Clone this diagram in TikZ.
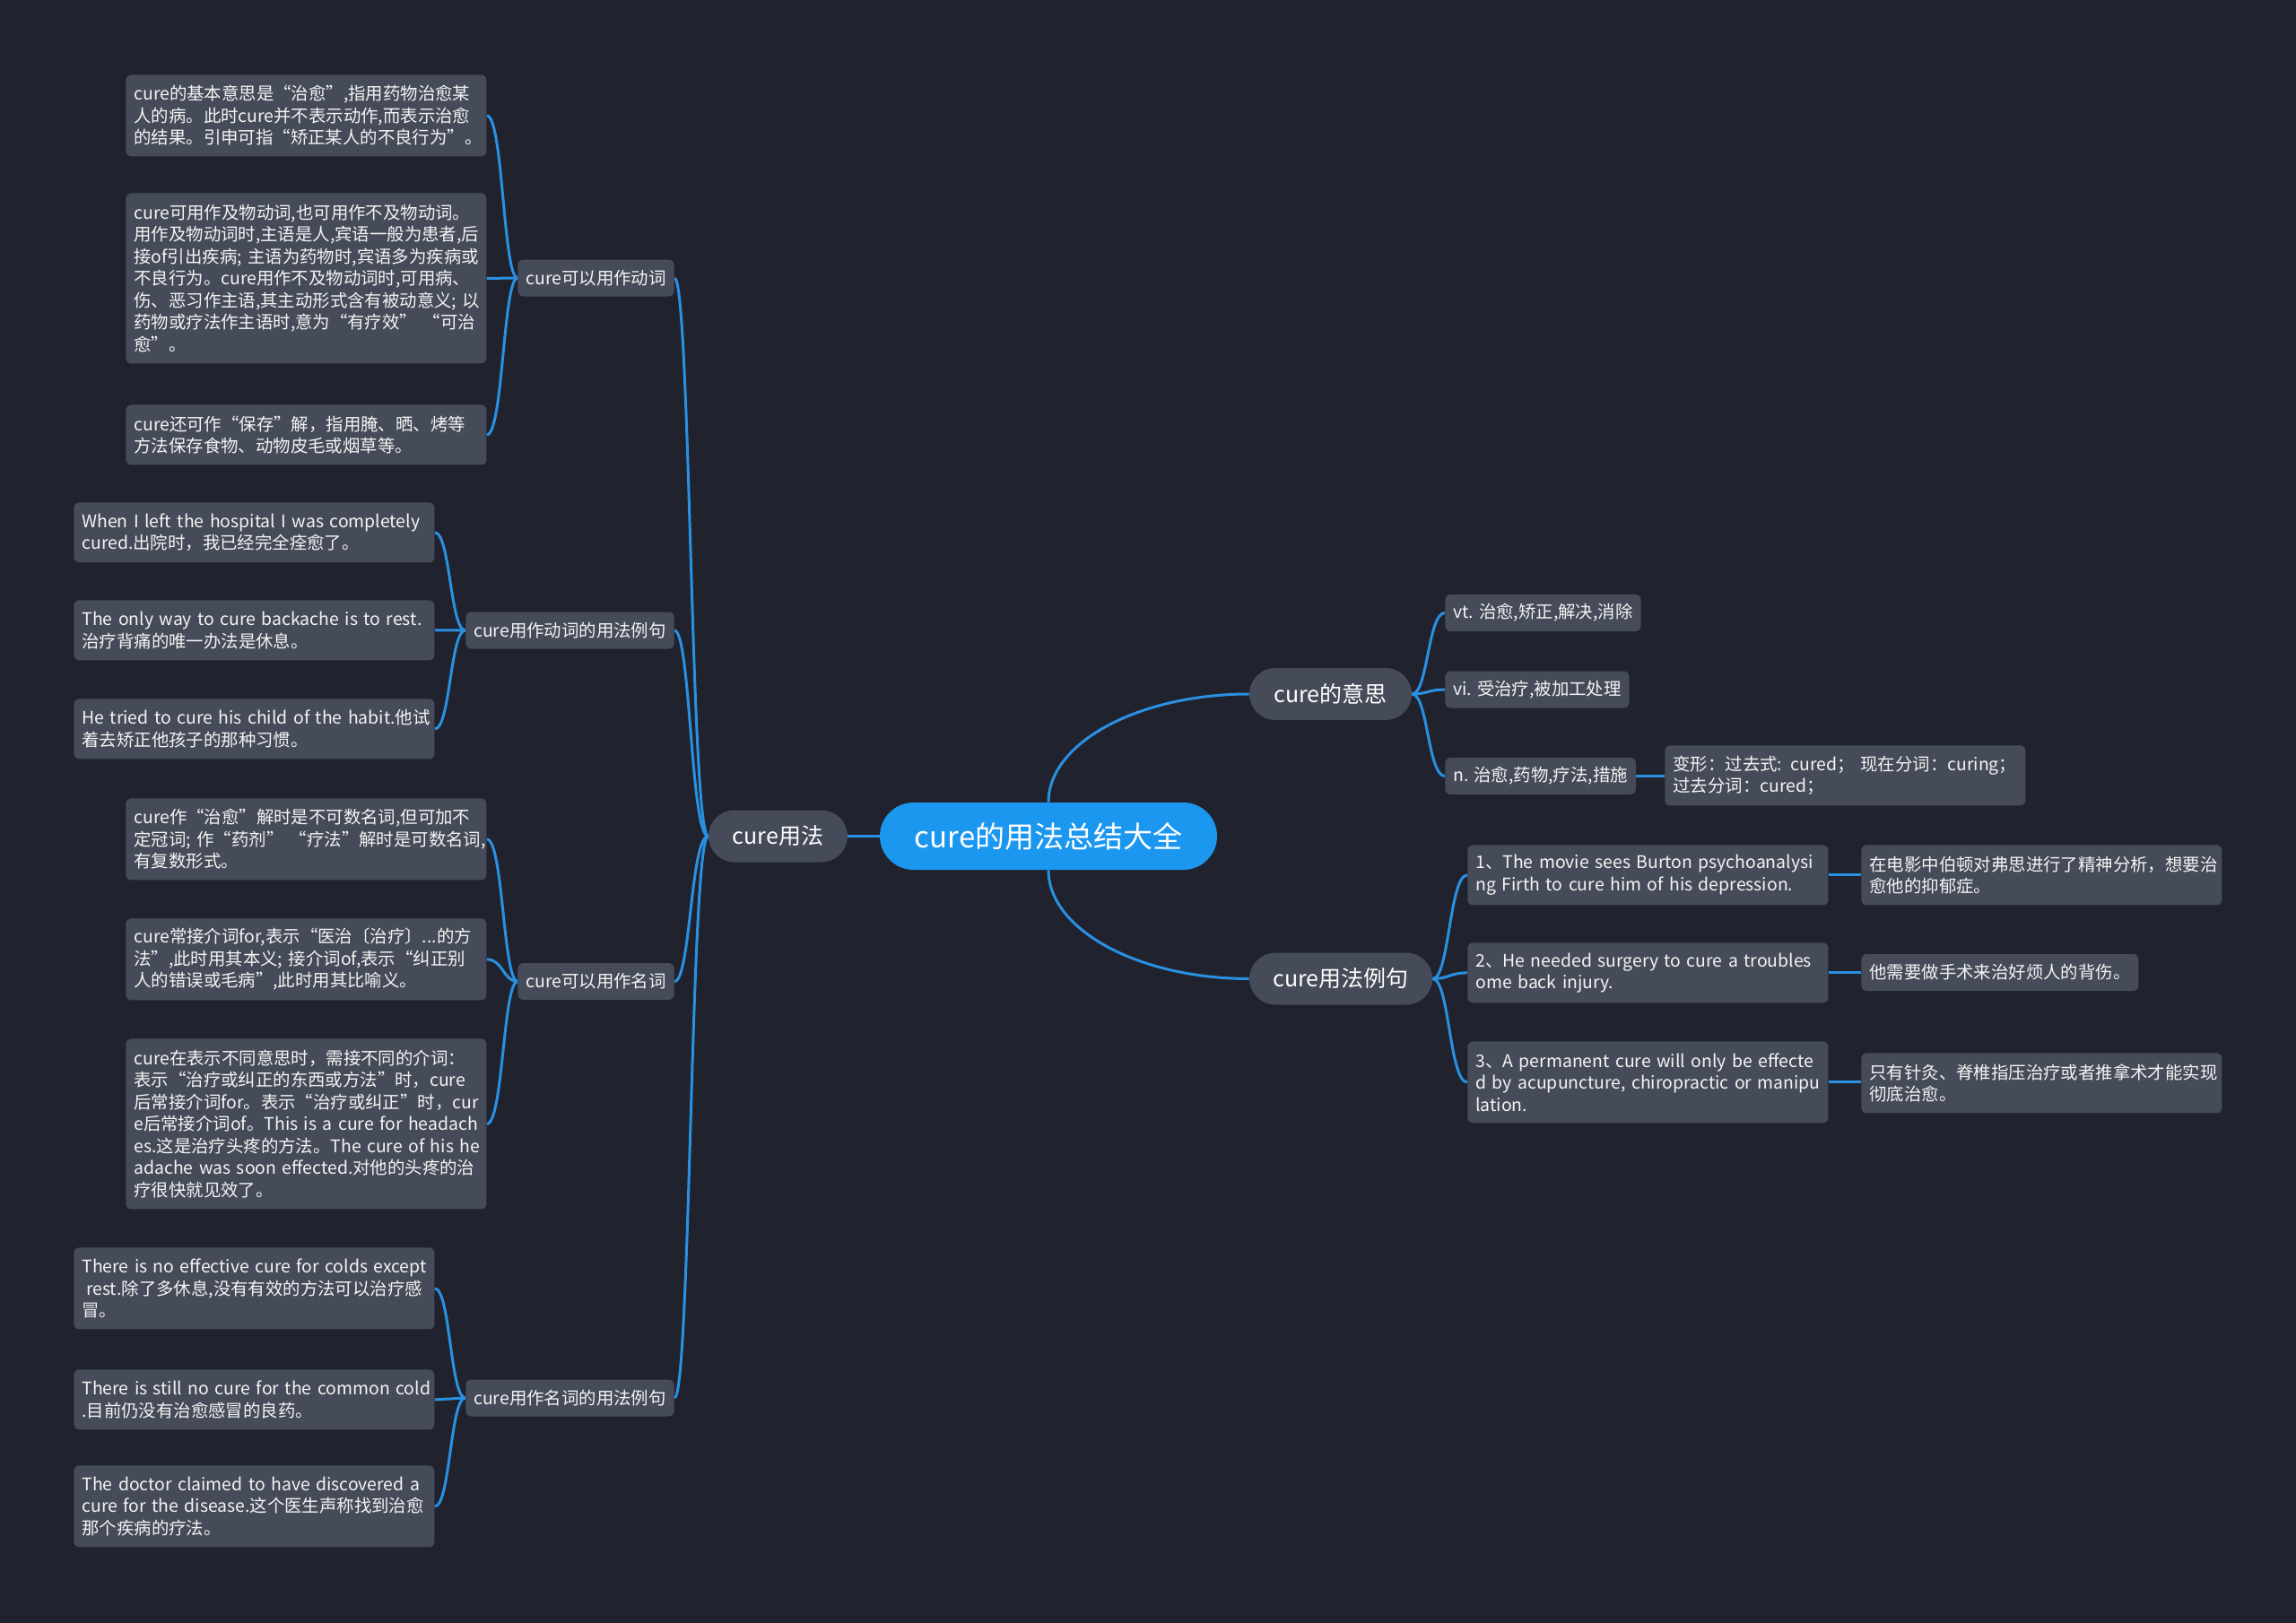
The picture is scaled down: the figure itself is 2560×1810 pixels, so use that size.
\documentclass[tikz,border=0pt]{standalone}
\usepackage{fontspec}
\setmainfont{Noto Sans CJK SC}
\pgfdeclarelayer{background}
\pgfsetlayers{background,main}
\definecolor{bgc}{HTML}{20232E}
\definecolor{nodefill}{HTML}{464B59}
\definecolor{rootfill}{HTML}{1C97F0}
\definecolor{linec}{HTML}{2A90E2}
\definecolor{txt}{HTML}{F4F4F4}
\newcommand{\leaffont}{\fontsize{9.7pt}{12.25pt}\selectfont\hyphenpenalty=10000 }
\newcommand{\tl}[1]{\mbox{#1}}
\begin{document}
\begin{tikzpicture}[x=0.5pt,y=-0.5pt,
  leaf/.style={fill=nodefill, rounded corners=3pt, text=txt, font=\leaffont, align=left, text width=192pt, inner xsep=4.5pt, inner ysep=0pt, anchor=north west},
  hone/.style={minimum height=20.5pt},
  htwo/.style={minimum height=33.5pt},
  hthree/.style={minimum height=45.5pt},
  hseven/.style={minimum height=95pt},
  subn/.style={fill=nodefill, rounded corners=3pt, text=txt, font=\leaffont, inner xsep=4.5pt, inner ysep=0pt, minimum height=20.5pt},
  topic/.style={fill=nodefill, rounded corners=14.5pt, text=white, font=\fontsize{12.5pt}{15pt}\selectfont, minimum height=29pt, inner xsep=0pt},
  rootn/.style={fill=rootfill, rounded corners=18.75pt, text=white, font=\fontsize{16.5pt}{20pt}\selectfont, minimum height=37.5pt, minimum width=188pt},
  conn/.style={draw=linec, line width=1.5pt},
]
\useasboundingbox (0,0) rectangle (2560,1810);

% root and main topics
\node[rootn] (root) at (1169,932.5) {cure的用法总结大全};
\node[topic, minimum width=77.5pt] (U) at (867.5,932.5) {cure用法};
\node[topic, minimum width=90.5pt] (M) at (1483.5,774) {cure的意思};
\node[topic, minimum width=102pt] (X) at (1495,1091.5) {cure用法例句};

% left level 2
\node[subn, anchor=east] (La) at (752,310) {cure可以用作动词};
\node[subn, anchor=east] (Lb) at (752,703) {cure用作动词的用法例句};
\node[subn, anchor=east] (Lc) at (752,1094.5) {cure可以用作名词};
\node[subn, anchor=east] (Ld) at (752,1559) {cure用作名词的用法例句};

% group A
\node[leaf, hthree] (A1) at (140,83) {\tl{cure的基本意思是“治愈”,指用药物治愈某}\\\tl{人的病。此时cure并不表示动作,而表示治愈}\\\tl{的结果。引申可指“矫正某人的不良行为”。}};
\node[leaf, hseven] (A2) at (140,215) {\tl{cure可用作及物动词,也可用作不及物动词。}\\\tl{用作及物动词时,主语是人,宾语一般为患者,后}\\\tl{接of引出疾病; 主语为药物时,宾语多为疾病或}\\\tl{不良行为。cure用作不及物动词时,可用病、}\\\tl{伤、恶习作主语,其主动形式含有被动意义; 以}\\\tl{药物或疗法作主语时,意为“有疗效” “可治}\\\tl{愈”。}};
\node[leaf, htwo] (A3) at (140,451) {\tl{cure还可作“保存”解，指用腌、晒、烤等}\\\tl{方法保存食物、动物皮毛或烟草等。}};

% group B
\node[leaf, htwo] (B1) at (82,560) {\tl{When I left the hospital I was completely}\\\tl{cured.出院时，我已经完全痊愈了。}};
\node[leaf, htwo] (B2) at (82,669) {\tl{The only way to cure backache is to rest.}\\\tl{治疗背痛的唯一办法是休息。}};
\node[leaf, htwo] (B3) at (82,779) {\tl{He tried to cure his child of the habit.他试}\\\tl{着去矫正他孩子的那种习惯。}};

% group C
\node[leaf, hthree] (C1) at (140,890) {\tl{cure作“治愈”解时是不可数名词,但可加不}\\\tl{定冠词; 作“药剂” “疗法”解时是可数名词,}\\\tl{有复数形式。}};
\node[leaf, hthree] (C2) at (140,1024) {\tl{cure常接介词for,表示“医治〔治疗〕...的方}\\\tl{法”,此时用其本义; 接介词of,表示“纠正别}\\\tl{人的错误或毛病”,此时用其比喻义。}};
\node[leaf, hseven] (C3) at (140,1158) {\tl{cure在表示不同意思时，需接不同的介词：}\\\tl{表示“治疗或纠正的东西或方法”时，cure}\\\tl{后常接介词for。表示“治疗或纠正”时，cur}\\\tl{e后常接介词of。This is a cure for headach}\\\tl{es.这是治疗头疼的方法。The cure of his he}\\\tl{adache was soon effected.对他的头疼的治}\\\tl{疗很快就见效了。}};

% group D
\node[leaf, hthree] (D1) at (82,1391) {\tl{There is no effective cure for colds except}\\\tl{\hspace*{0.25em}rest.除了多休息,没有有效的方法可以治疗感}\\\tl{冒。}};
\node[leaf, htwo] (D2) at (82,1527) {\tl{There is still no cure for the common cold}\\\tl{.目前仍没有治愈感冒的良药。}};
\node[leaf, hthree] (D3) at (82,1634) {\tl{The doctor claimed to have discovered a}\\\tl{cure for the disease.这个医生声称找到治愈}\\\tl{那个疾病的疗法。}};

% right: meanings
\node[subn, anchor=west] (R1) at (1611,683.5) {vt. 治愈,矫正,解决,消除};
\node[subn, anchor=west] (R2) at (1611,769) {vi. 受治疗,被加工处理};
\node[subn, anchor=west] (R3) at (1611,865.5) {n. 治愈,药物,疗法,措施};
\node[leaf, htwo] (R3a) at (1856,831) {\tl{变形：过去式: cured； 现在分词：curing；}\\\tl{过去分词：cured；}};

% right: examples
\node[leaf, htwo] (E1) at (1636,942) {\tl{1、The movie sees Burton psychoanalysi}\\\tl{ng Firth to cure him of his depression.}};
\node[leaf, htwo] (E2) at (1636,1051) {\tl{2、He needed surgery to cure a troubles}\\\tl{ome back injury.}};
\node[leaf, hthree] (E3) at (1636,1161) {\tl{3、A permanent cure will only be effecte}\\\tl{d by acupuncture, chiropractic or manipu}\\\tl{lation.}};
\node[leaf, htwo] (T1) at (2075,942) {\tl{在电影中伯顿对弗思进行了精神分析，想要治}\\\tl{愈他的抑郁症。}};
\node[subn, anchor=west] (T2) at (2075,1084.5) {他需要做手术来治好烦人的背伤。};
\node[leaf, htwo] (T3) at (2075,1174) {\tl{只有针灸、脊椎指压治疗或者推拿术才能实现}\\\tl{彻底治愈。}};

% spine coordinates
\coordinate (sL) at (770,932.5);
\coordinate (sA) at (561,310);
\coordinate (sB) at (502,703);
\coordinate (sC) at (561,1094.5);
\coordinate (sD) at (502,1559);
\coordinate (sM) at (1592,774);
\coordinate (sX) at (1616,1091.5);

\begin{pgfonlayer}{background}
\fill[bgc] (0,0) rectangle (2560,1810);
\draw[conn] (root.west) -- (U.east);
\draw[conn] (root.north) .. controls (1169,828) and (1270,774) .. (M.west);
\draw[conn] (root.south) .. controls (1169,1037) and (1270,1091.5) .. (X.west);
\foreach \n in {La,Lb,Lc,Ld}
  \draw[conn] (U.west) .. controls (sL) and (sL |- \n.east) .. (\n.east);
\foreach \n in {A1,A2,A3}
  \draw[conn] (La.west) .. controls (sA) and (sA |- \n.east) .. (\n.east);
\foreach \n in {B1,B2,B3}
  \draw[conn] (Lb.west) .. controls (sB) and (sB |- \n.east) .. (\n.east);
\foreach \n in {C1,C2,C3}
  \draw[conn] (Lc.west) .. controls (sC) and (sC |- \n.east) .. (\n.east);
\foreach \n in {D1,D2,D3}
  \draw[conn] (Ld.west) .. controls (sD) and (sD |- \n.east) .. (\n.east);
\foreach \n in {R1,R2,R3}
  \draw[conn] (M.east) .. controls (sM) and (sM |- \n.west) .. (\n.west);
\foreach \n in {E1,E2,E3}
  \draw[conn] (X.east) .. controls (sX) and (sX |- \n.west) .. (\n.west);
\draw[conn] (R3.east) -- (R3.east -| R3a.west);
\draw[conn] (E1.east) -- (E1.east -| T1.west);
\draw[conn] (E2.east) -- (E2.east -| T2.west);
\draw[conn] (E3.east) -- (E3.east -| T3.west);
\end{pgfonlayer}
\end{tikzpicture}
\end{document}
